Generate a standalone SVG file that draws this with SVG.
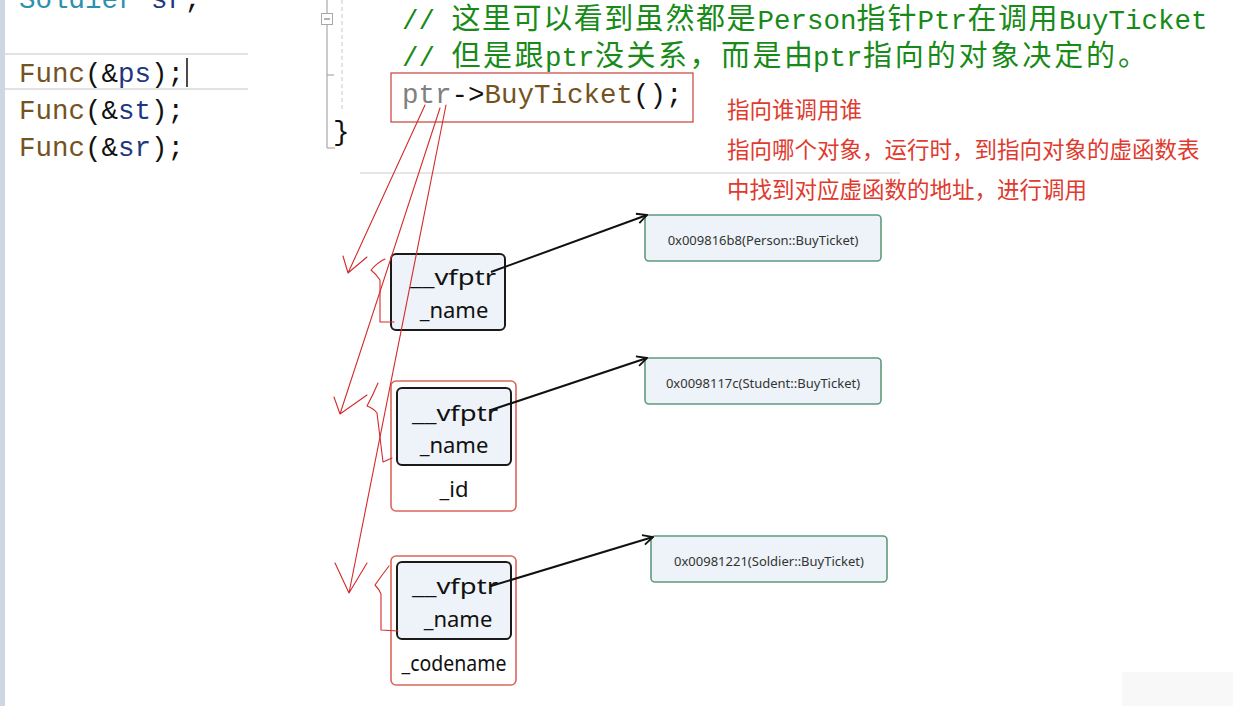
<svg xmlns="http://www.w3.org/2000/svg" width="1243" height="706" viewBox="0 0 1243 706">
<defs>
<style>
.mono{font-family:"Liberation Mono",monospace;font-size:27.5px}
.cjk{font-family:"Noto Sans CJK SC",sans-serif;font-size:29px}
.cm{fill:#178a17}
.fn{fill:#74531f}
.var{fill:#1f377f}
.ty{fill:#2b91af}
.blk{fill:#111}
.gry{fill:#808080}
.note{font-family:"Noto Sans CJK SC",sans-serif;font-size:22.5px;fill:#e03a2e}
.lbl{font-family:"Noto Sans","Noto Sans CJK SC",sans-serif;font-size:22px;fill:#111;text-anchor:middle}
.addr{font-family:"Noto Sans",sans-serif;font-size:13px;fill:#333;text-anchor:middle}
.inner{fill:#edf3f8;stroke:#1a1a1a;stroke-width:2}
.outer{fill:#fff;stroke:#d9675c;stroke-width:1.6}
.vt{fill:#edf3f8;stroke:#5f9a7c;stroke-width:1.6}
.arrow{fill:none;stroke:#111;stroke-width:2;marker-end:url(#open)}
.hand{fill:none;stroke:#d42a2a;stroke-width:1.1;stroke-linecap:round;stroke-linejoin:round}
</style>
<marker id="open" viewBox="0 0 12 12" refX="11" refY="6" markerWidth="12" markerHeight="12" markerUnits="userSpaceOnUse" orient="auto">
<path d="M1,1 L11,6 L1,11" fill="none" stroke="#111" stroke-width="1.8"/>
</marker>
</defs>
<rect width="1243" height="706" fill="#fff"/>

<g id="code-left">
<rect x="0" y="0" width="5" height="706" fill="#cdd6e4"/>
<line x1="5" y1="54" x2="248" y2="54" stroke="#e2e2e2" stroke-width="2"/>
<line x1="5" y1="89" x2="248" y2="89" stroke="#e2e2e2" stroke-width="2"/>
<text class="mono" x="19" y="8"><tspan class="ty">Soldier</tspan><tspan class="blk"> </tspan><tspan class="var">sr</tspan><tspan class="blk">;</tspan></text>
<text class="mono" x="19" y="82"><tspan class="fn">Func</tspan><tspan class="blk">(&amp;</tspan><tspan class="var">ps</tspan><tspan class="blk">);</tspan></text>
<line x1="187" y1="58" x2="187" y2="87" stroke="#111" stroke-width="1.5"/>
<text class="mono" x="19" y="119"><tspan class="fn">Func</tspan><tspan class="blk">(&amp;</tspan><tspan class="var">st</tspan><tspan class="blk">);</tspan></text>
<text class="mono" x="19" y="156"><tspan class="fn">Func</tspan><tspan class="blk">(&amp;</tspan><tspan class="var">sr</tspan><tspan class="blk">);</tspan></text>
</g>

<g id="code-right">
<line x1="327" y1="0" x2="327" y2="148" stroke="#a8a8a8" stroke-width="1.2"/>
<line x1="327" y1="75" x2="334" y2="75" stroke="#a8a8a8" stroke-width="1.2"/>
<line x1="327" y1="148" x2="335" y2="148" stroke="#a8a8a8" stroke-width="1.2"/>
<rect x="321.5" y="13.5" width="11" height="11" fill="#fff" stroke="#a8a8a8" stroke-width="1"/>
<line x1="324" y1="19" x2="330" y2="19" stroke="#666" stroke-width="1"/>
<line x1="342" y1="0" x2="342" y2="110" stroke="#c8c8c8" stroke-width="1" stroke-dasharray="4 3"/>
<g class="cm">
<text class="mono" x="402" y="29">//</text>
<text class="cjk" x="451.5" y="29" textLength="304" lengthAdjust="spacing">这里可以看到虽然都是</text>
<text class="mono" x="757.5" y="29">Person</text>
<text class="cjk" x="856.5" y="29" textLength="60" lengthAdjust="spacing">指针</text>
<text class="mono" x="917.5" y="29">Ptr</text>
<text class="cjk" x="967.5" y="29" textLength="90" lengthAdjust="spacing">在调用</text>
<text class="mono" x="1059" y="29">BuyTicket</text>
<text class="mono" x="402" y="66">//</text>
<text class="cjk" x="451.5" y="66" textLength="92" lengthAdjust="spacing">但是跟</text>
<text class="mono" x="545" y="66">ptr</text>
<text class="cjk" x="595" y="66" textLength="218" lengthAdjust="spacing">没关系，而是由</text>
<text class="mono" x="813" y="66">ptr</text>
<text class="cjk" x="863" y="66" textLength="284" lengthAdjust="spacing">指向的对象决定的。</text>
</g>
<rect x="391" y="73" width="302" height="49" fill="none" stroke="#c9403a" stroke-width="1.2"/>
<text class="mono" x="402" y="103"><tspan class="gry">ptr</tspan><tspan class="blk">-&gt;</tspan><tspan class="fn">BuyTicket</tspan><tspan class="blk">();</tspan></text>
<text class="mono blk" x="333" y="140">}</text>
<line x1="360" y1="173" x2="900" y2="173" stroke="#e6e6e6" stroke-width="2"/>
</g>

<g id="note">
<text class="note" x="727" y="118">指向谁调用谁</text>
<text class="note" x="727" y="158">指向哪个对象，运行时，到指向对象的虚函数表</text>
<text class="note" x="727" y="198">中找到对应虚函数的地址，进行调用</text>
</g>

<g id="obj-person">
<rect class="inner" x="391" y="254" width="114" height="76" rx="5"/>
<text class="lbl" x="453" y="285" textLength="86" lengthAdjust="spacingAndGlyphs">__vfptr</text>
<text class="lbl" x="454" y="318">_name</text>
</g>

<g id="obj-student">
<rect class="outer" x="391" y="381" width="125" height="130" rx="5"/>
<rect class="inner" x="397" y="388" width="114" height="77" rx="5"/>
<text class="lbl" x="455" y="421" textLength="86" lengthAdjust="spacingAndGlyphs">__vfptr</text>
<text class="lbl" x="454" y="453">_name</text>
<text class="lbl" x="454" y="497">_id</text>
</g>

<g id="obj-soldier">
<rect class="outer" x="391" y="556" width="125" height="129" rx="5"/>
<rect class="inner" x="397" y="562" width="114" height="77" rx="5"/>
<text class="lbl" x="455" y="594" textLength="86" lengthAdjust="spacingAndGlyphs">__vfptr</text>
<text class="lbl" x="458" y="627">_name</text>
<text class="lbl" x="454" y="671" textLength="105" lengthAdjust="spacingAndGlyphs">_codename</text>
</g>

<g id="vt-person">
<rect class="vt" x="645" y="215" width="236" height="46" rx="4"/>
<text class="addr" x="763" y="244.5">0x009816b8(Person::BuyTicket)</text>
</g>
<g id="vt-student">
<rect class="vt" x="645" y="358" width="236" height="46" rx="4"/>
<text class="addr" x="763" y="387.5">0x0098117c(Student::BuyTicket)</text>
</g>
<g id="vt-soldier">
<rect class="vt" x="651" y="536" width="236" height="46" rx="4"/>
<text class="addr" x="769" y="565.5">0x00981221(Soldier::BuyTicket)</text>
</g>

<g id="connectors">
<line class="arrow" x1="491" y1="272" x2="647" y2="215"/>
<line class="arrow" x1="491" y1="410" x2="647" y2="358"/>
<line class="arrow" x1="491" y1="586" x2="653" y2="537"/>
<path class="hand" d="M425,105 L348,273 M343,256 L348,273 L367,257"/>
<path class="hand" d="M440,108 L340,414 M334,397 L340,414 L367,395"/>
<path class="hand" d="M446,105 L349,593 M335,563 L349,593 L367,563"/>
<path class="hand" d="M385,259 Q378,262 371,270 Q376,274 380,280 L380,322 L394,322"/>
<path class="hand" d="M378,383 Q373,395 367,406 Q373,408 377,413 L383,462 L392,458"/>
<path class="hand" d="M389,566 Q382,575 375,585 Q379,589 381,594 L381,630 L398,631"/>
</g>

<rect x="1122" y="672" width="111" height="34" fill="#f8f8f8"/>
</svg>
